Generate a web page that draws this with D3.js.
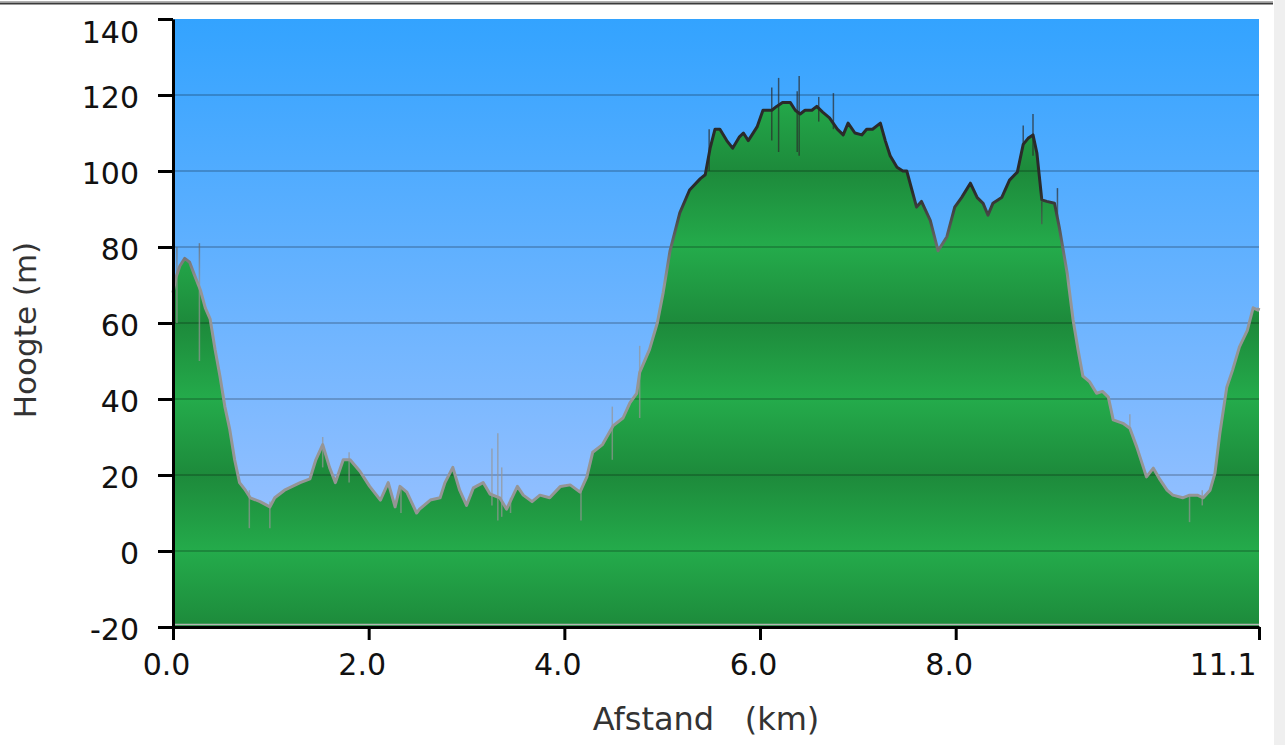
<!DOCTYPE html>
<html>
<head>
<meta charset="utf-8">
<script src="https://cdn.jsdelivr.net/npm/d3@7"></script>
<style>
    body { margin: 0; background: #fff; }
    svg { display: block; font-family: "DejaVu Sans", Verdana, sans-serif; }
</style>
</head>
<body>
<svg id="chart"></svg>
<script>
// Profile data (distance in km, height in m)
var distanceKm = [
    0.00, 0.03, 0.07, 0.12, 0.17, 0.22, 0.28, 0.33, 0.38, 0.43,
    0.48, 0.53, 0.58, 0.63, 0.68, 0.74, 0.79, 0.89, 0.99, 1.04,
    1.14, 1.30, 1.40, 1.46, 1.53, 1.60, 1.66, 1.74, 1.81, 1.91,
    2.01, 2.12, 2.20, 2.27, 2.32, 2.39, 2.49, 2.52, 2.63, 2.73,
    2.78, 2.86, 2.93, 3.00, 3.07, 3.17, 3.24, 3.34, 3.41, 3.52,
    3.58, 3.67, 3.75, 3.85, 3.96, 4.06, 4.16, 4.23, 4.29, 4.39,
    4.50, 4.60, 4.67, 4.74, 4.77, 4.87, 4.95, 5.01, 5.08, 5.18,
    5.28, 5.39, 5.44, 5.49, 5.54, 5.59, 5.66, 5.72, 5.79, 5.83,
    5.88, 5.97, 6.03, 6.12, 6.17, 6.23, 6.31, 6.36, 6.41, 6.46,
    6.53, 6.58, 6.64, 6.71, 6.79, 6.85, 6.90, 6.97, 7.04, 7.09,
    7.15, 7.23, 7.28, 7.33, 7.40, 7.46, 7.50, 7.60, 7.65, 7.74,
    7.82, 7.91, 7.99, 8.06, 8.15, 8.22, 8.28, 8.33, 8.38, 8.47,
    8.55, 8.63, 8.69, 8.74, 8.79, 8.83, 8.88, 8.93, 9.01, 9.06,
    9.14, 9.20, 9.25, 9.30, 9.37, 9.44, 9.50, 9.56, 9.61, 9.71,
    9.78, 9.85, 9.95, 10.02, 10.09, 10.16, 10.22, 10.32, 10.39, 10.47,
    10.53, 10.60, 10.65, 10.70, 10.77, 10.83, 10.90, 10.98, 11.04, 11.09,
    11.10
];
var elevationM = [
    68, 72, 75, 77, 76, 72.6, 68.7, 64, 61, 53,
    46, 38, 32, 24, 18, 16, 14, 13, 11.6, 14,
    16, 18, 19, 24, 28, 22, 18, 24, 24, 21,
    17, 13.4, 18, 11.6, 17, 15.5, 10, 11, 13.4, 14,
    18, 22, 16, 12, 16.6, 18, 15, 14, 11, 17,
    14.7, 13, 14.7, 14, 17, 17.4, 15.5, 19.5, 26, 28,
    33, 35, 39, 41.5, 47, 53, 60, 68, 79, 89,
    95, 98, 99, 106, 111, 111, 108, 106, 109, 110,
    108, 111.6, 116, 116, 117, 118, 118, 116, 115, 116,
    116, 117, 115.5, 114, 111, 109.5, 112.6, 110, 109.5, 111,
    111, 112.6, 108, 104, 101, 100, 100, 90.5, 92, 87,
    79, 82.7, 90.5, 93, 96.8, 93, 91.5, 88.4, 91.5, 93,
    97.6, 99.7, 107, 108.6, 109.5, 104.7, 92.4, 92, 91.5, 85,
    73, 60.8, 53, 46, 44.5, 41.5, 42, 40.5, 34.5, 33.6,
    32.3, 27.4, 19.5, 21.8, 18.7, 16, 14.7, 14, 14.7, 14.7,
    14, 16, 20.5, 31, 43, 47.6, 53.7, 58, 64, 63.4,
    64
];

// GPS noise spikes: [km, low m, high m]
var spikes = [
    [0.04, 60, 80], [0.27, 50, 81], [0.78, 6, 16], [0.99, 6, 13],
    [1.53, 22, 30], [1.80, 18, 26], [2.33, 10, 17], [3.26, 12, 27],
    [3.32, 8, 31], [3.36, 9, 22], [3.45, 10, 14], [4.17, 8, 16],
    [4.49, 24, 38], [4.77, 35, 54], [5.48, 100, 111], [6.12, 108, 122],
    [6.19, 105, 124.5], [6.38, 105, 121], [6.40, 104, 125], [6.60, 113, 119.5],
    [6.75, 111, 120.5], [8.69, 106, 112], [8.79, 104, 115], [8.88, 86, 92],
    [9.04, 88, 95.5], [9.78, 32, 36], [10.39, 7.6, 15], [10.52, 12, 16]
];

var yTicks = [-20, 0, 20, 40, 60, 80, 100, 120, 140];
var gridValues = [0, 20, 40, 60, 80, 100, 120];
var xTicks = [0, 2, 4, 6, 8, 11.1];
var xTickLabels = ["0.0", "2.0", "4.0", "6.0", "8.0", "11.1"];
var xTitle = "Afstand   (km)";
var yTitle = "Hoogte (m)";

var width = 1285;
var height = 745;

var svg = d3.select("#chart")
    .attr("width", width)
    .attr("height", height);

var x = d3.scaleLinear().domain([0, 11.1]).range([173, 1259]);
var y = d3.scaleLinear().domain([-20, 140]).range([627, 19]);

var profile = distanceKm.map(function (d, i) { return { km: d, m: elevationM[i] }; });

// Frame: thin rule on top and grey strip on the right
svg.append("rect").attr("x", 1274).attr("y", 0).attr("width", 11).attr("height", height).attr("fill", "#efefef");
svg.append("line").attr("x1", 0).attr("x2", 1273).attr("y1", 1.5).attr("y2", 1.5).attr("stroke", "#b0b0b0").attr("stroke-width", 1);
svg.append("line").attr("x1", 0).attr("x2", 1273).attr("y1", 3.5).attr("y2", 3.5).attr("stroke", "#3a3a3a").attr("stroke-width", 2);

// Gradients
var defs = svg.append("defs");

var sky = defs.append("linearGradient")
    .attr("id", "sky")
    .attr("gradientUnits", "userSpaceOnUse")
    .attr("x1", 0).attr("x2", 0)
    .attr("y1", y(140)).attr("y2", y(-20));
sky.append("stop").attr("offset", 0).attr("stop-color", "#33a3ff");
sky.append("stop").attr("offset", 1).attr("stop-color", "#a9c6ff");

// ground: banded, dark at 100/60/20/-20, light at 120/80/40/0
var ground = defs.append("linearGradient")
    .attr("id", "ground")
    .attr("gradientUnits", "userSpaceOnUse")
    .attr("x1", 0).attr("x2", 0)
    .attr("y1", y(140)).attr("y2", y(-20));
yTicks.slice().reverse().forEach(function (v) {
    var dark = ((v + 20) / 20) % 2 === 0;
    ground.append("stop")
        .attr("offset", (140 - v) / 160)
        .attr("stop-color", dark ? "#1d8a3b" : "#24ab4b");
});

var lineGrad = defs.append("linearGradient")
    .attr("id", "lineGrad")
    .attr("gradientUnits", "userSpaceOnUse")
    .attr("x1", 0).attr("x2", 0)
    .attr("y1", y(95)).attr("y2", y(70));
lineGrad.append("stop").attr("offset", 0).attr("stop-color", "#2a2a2a");
lineGrad.append("stop").attr("offset", 1).attr("stop-color", "#959595");

// Sky background
svg.append("rect")
    .attr("x", x(0)).attr("y", y(140))
    .attr("width", x(11.1) - x(0)).attr("height", y(-20) - y(140))
    .attr("fill", "url(#sky)");

// Terrain area
var area = d3.area()
    .x(function (d) { return x(d.km); })
    .y0(y(-20))
    .y1(function (d) { return y(d.m); });

svg.append("path")
    .datum(profile)
    .attr("d", area)
    .attr("fill", "url(#ground)");

svg.append("line")
    .attr("x1", x(0)).attr("x2", x(11.1))
    .attr("y1", y(-20) - 2.5).attr("y2", y(-20) - 2.5)
    .attr("stroke", "#b5b5b5").attr("stroke-width", 1.5);

// Grid lines
svg.append("g").selectAll("line")
    .data(gridValues)
    .enter().append("line")
    .attr("x1", x(0)).attr("x2", x(11.1))
    .attr("y1", function (d) { return y(d); })
    .attr("y2", function (d) { return y(d); })
    .attr("stroke", "rgba(0,0,0,0.2)")
    .attr("stroke-width", 2);

// Noise spikes
svg.append("g").selectAll("line")
    .data(spikes)
    .enter().append("line")
    .attr("x1", function (d) { return x(d[0]); })
    .attr("x2", function (d) { return x(d[0]); })
    .attr("y1", function (d) { return y(d[1]); })
    .attr("y2", function (d) { return y(d[2]); })
    .attr("stroke", "url(#lineGrad)")
    .attr("stroke-opacity", 0.7)
    .attr("stroke-width", 1.5);

// Profile line
var line = d3.line()
    .x(function (d) { return x(d.km); })
    .y(function (d) { return y(d.m); });

svg.append("path")
    .datum(profile)
    .attr("d", line)
    .attr("fill", "none")
    .attr("stroke", "url(#lineGrad)")
    .attr("stroke-width", 3)
    .attr("stroke-linejoin", "round");

// Axes
var yAxis = svg.append("g")
    .attr("transform", "translate(" + x(0) + ",0)")
    .call(d3.axisLeft(y).tickValues(yTicks).tickSize(15).tickSizeOuter(0).tickPadding(19)
        .tickFormat(function (d) { return String(d); }));

var xAxis = svg.append("g")
    .attr("transform", "translate(0," + y(-20) + ")")
    .call(d3.axisBottom(x).tickValues(xTicks).tickSize(13).tickSizeOuter(0).tickPadding(14)
        .tickFormat(function (d, i) { return xTickLabels[i]; }));

[yAxis, xAxis].forEach(function (ax) {
    ax.select(".domain").attr("stroke", "#000").attr("stroke-width", 3);
    ax.selectAll(".tick line").attr("stroke", "#000").attr("stroke-width", 3);
    ax.selectAll(".tick text")
        .attr("fill", "#111")
        .style("font-size", "30px")
        .style("font-family", "'DejaVu Sans', Verdana, sans-serif");
});

yAxis.selectAll(".tick text").attr("dy", "0.4em");
// top label sits below its tick
yAxis.selectAll(".tick text").filter(function (d) { return d === 140; }).attr("dy", "0.78em");

xAxis.selectAll(".tick text").attr("dx", -7);
xAxis.selectAll(".tick text").filter(function (d) { return d === 11.1; })
    .attr("text-anchor", "end").attr("dx", -3);

// Axis titles
svg.append("text")
    .attr("x", 706).attr("y", 730)
    .attr("text-anchor", "middle")
    .style("white-space", "pre")
    .style("font-size", "32px")
    .attr("fill", "#333")
    .text(xTitle);

svg.append("text")
    .attr("transform", "translate(36,330) rotate(-90)")
    .attr("text-anchor", "middle")
    .style("font-size", "31px")
    .attr("fill", "#333")
    .text(yTitle);
</script>
</body>
</html>
